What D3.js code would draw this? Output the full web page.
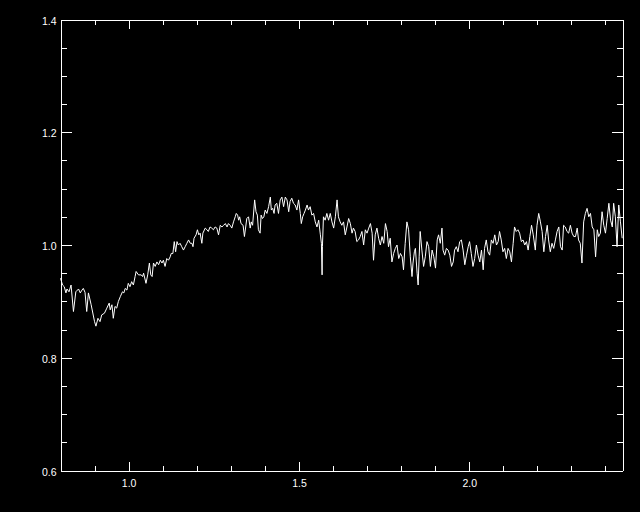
<!DOCTYPE html>
<html>
<head>
<meta charset="utf-8">
<script src="https://cdn.jsdelivr.net/npm/d3@7"></script>
<style>
  html, body { margin: 0; padding: 0; background: #000; }
  svg { display: block; }
</style>
</head>
<body>
<div class="canva"></div>
<script>
var width = 640;
var height = 512;

// tick positions
const xMajor = [1.0, 1.5, 2.0];
const xMinor = [0.9, 1.1, 1.2, 1.3, 1.4, 1.6, 1.7, 1.8, 1.9, 2.1, 2.2, 2.3, 2.4];
const yMajor = [0.6, 0.8, 1.0, 1.2, 1.4];
const yMinor = [0.65, 0.7, 0.75, 0.85, 0.9, 0.95, 1.05, 1.1, 1.15, 1.25, 1.3, 1.35];

// spectrum
const wave = [
  0.800,0.806,0.811,0.816,0.819,0.825,0.831,0.838,0.845,0.853,0.858,0.863,0.867,0.872,0.877,0.882,0.890,0.900,0.904,0.910,
  0.916,0.921,0.929,0.936,0.943,0.946,0.951,0.955,0.960,0.965,0.970,0.976,0.982,0.986,0.990,0.995,0.999,1.004,1.009,1.014,
  1.019,1.022,1.029,1.037,1.041,1.044,1.051,1.056,1.061,1.065,1.069,1.073,1.078,1.083,1.088,1.093,1.098,1.102,1.107,1.112,
  1.117,1.122,1.125,1.130,1.134,1.138,1.142,1.146,1.151,1.156,1.161,1.166,1.171,1.176,1.181,1.186,1.189,1.192,1.198,1.202,
  1.206,1.210,1.215,1.218,1.225,1.230,1.234,1.239,1.244,1.249,1.254,1.259,1.264,1.269,1.274,1.279,1.284,1.289,1.293,1.298,
  1.303,1.308,1.313,1.316,1.320,1.323,1.326,1.330,1.336,1.340,1.347,1.352,1.357,1.360,1.364,1.370,1.374,1.378,1.381,1.386,
  1.389,1.393,1.397,1.401,1.406,1.411,1.416,1.419,1.423,1.427,1.430,1.435,1.440,1.445,1.450,1.455,1.460,1.465,1.470,1.474,
  1.479,1.484,1.489,1.494,1.499,1.504,1.507,1.511,1.515,1.519,1.524,1.528,1.533,1.538,1.543,1.548,1.553,1.558,1.563,1.566,
  1.568,1.569,1.572,1.577,1.582,1.587,1.592,1.597,1.602,1.607,1.612,1.616,1.621,1.626,1.631,1.636,1.641,1.646,1.651,1.656,
  1.660,1.665,1.670,1.675,1.680,1.685,1.690,1.695,1.700,1.705,1.710,1.715,1.719,1.724,1.729,1.734,1.739,1.744,1.749,1.754,
  1.759,1.763,1.768,1.773,1.778,1.783,1.788,1.793,1.798,1.803,1.807,1.812,1.817,1.822,1.827,1.832,1.835,1.839,1.842,1.847,
  1.850,1.853,1.856,1.861,1.866,1.871,1.876,1.881,1.886,1.891,1.896,1.901,1.906,1.910,1.915,1.920,1.923,1.928,1.933,1.938,
  1.943,1.948,1.953,1.957,1.962,1.967,1.972,1.977,1.982,1.987,1.992,1.997,2.001,2.006,2.011,2.016,2.021,2.026,2.031,2.036,
  2.041,2.045,2.050,2.055,2.060,2.065,2.070,2.075,2.080,2.085,2.089,2.094,2.099,2.104,2.109,2.114,2.119,2.124,2.129,2.133,
  2.138,2.143,2.148,2.153,2.158,2.163,2.168,2.173,2.178,2.183,2.188,2.194,2.199,2.204,2.209,2.214,2.219,2.224,2.229,2.233,
  2.238,2.243,2.248,2.253,2.258,2.263,2.268,2.273,2.277,2.282,2.287,2.292,2.297,2.302,2.307,2.312,2.317,2.321,2.326,2.331,
  2.336,2.341,2.346,2.351,2.356,2.361,2.366,2.371,2.376,2.380,2.385,2.390,2.395,2.400,2.405,2.410,2.415,2.420,2.424,2.429,
  2.434,2.439,2.444,2.449
];
const flux = [
  0.941,0.929,0.926,0.915,0.922,0.917,0.929,0.882,0.917,0.922,0.915,0.920,0.923,0.916,0.882,0.915,0.894,0.864,0.856,0.870,
  0.864,0.876,0.879,0.888,0.897,0.885,0.894,0.870,0.891,0.888,0.900,0.909,0.917,0.915,0.923,0.920,0.932,0.926,0.935,0.929,
  0.944,0.953,0.947,0.947,0.944,0.950,0.932,0.947,0.968,0.947,0.944,0.968,0.962,0.970,0.965,0.973,0.968,0.973,0.962,0.976,
  0.973,0.979,0.985,0.985,1.006,0.988,1.006,1.000,1.003,0.997,0.991,0.997,1.003,1.009,1.003,1.003,0.997,1.012,1.018,1.027,
  1.018,1.021,1.003,1.021,1.030,1.027,1.024,1.032,1.030,1.027,1.032,1.030,1.018,1.035,1.032,1.035,1.038,1.032,1.038,1.035,
  1.030,1.041,1.050,1.056,1.053,1.044,1.050,1.038,1.035,1.015,1.047,1.050,1.030,1.041,1.035,1.080,1.059,1.053,1.027,1.021,
  1.053,1.047,1.050,1.062,1.056,1.068,1.085,1.062,1.065,1.056,1.071,1.074,1.056,1.080,1.085,1.068,1.085,1.080,1.059,1.077,
  1.083,1.074,1.071,1.062,1.080,1.056,1.038,1.050,1.056,1.062,1.071,1.062,1.068,1.053,1.056,1.041,1.032,1.044,1.018,1.003,
  0.947,0.997,1.050,1.044,1.056,1.044,1.056,1.041,1.030,1.050,1.080,1.050,1.041,1.035,1.041,1.018,1.032,1.047,1.038,1.021,
  1.030,1.024,1.006,1.009,1.015,1.024,1.000,1.027,1.021,1.030,1.038,1.021,0.973,1.018,1.030,1.012,1.000,1.015,1.003,1.038,
  1.024,0.997,1.012,0.970,0.985,0.994,1.000,0.976,0.985,0.979,0.956,1.003,1.041,1.027,0.979,0.944,0.968,0.988,0.994,0.950,
  0.929,0.979,1.024,0.991,0.962,0.979,1.006,0.997,0.962,0.991,0.979,0.959,1.009,1.018,1.003,1.030,0.991,0.982,0.994,0.991,
  0.982,0.962,0.970,0.991,0.997,0.988,1.006,1.009,0.991,0.965,0.982,0.997,1.006,0.985,0.962,0.976,1.000,0.982,0.970,0.991,
  0.956,0.994,1.009,0.988,0.982,1.009,1.003,1.018,1.000,1.006,1.024,1.009,0.988,0.994,0.976,0.994,0.988,0.970,1.003,1.032,
  1.024,1.027,1.021,1.006,1.009,1.000,1.006,0.991,1.015,1.035,1.018,0.991,1.035,1.056,1.041,1.024,0.988,1.015,1.035,1.009,
  0.988,1.003,0.994,1.009,1.024,1.032,0.997,0.991,1.035,1.032,1.024,1.021,1.035,1.021,1.015,1.015,1.030,1.009,1.003,0.968,
  1.041,1.056,1.065,1.050,1.056,1.032,1.027,0.979,1.027,1.015,1.021,1.059,1.035,1.021,1.047,1.074,1.044,1.032,1.074,1.050,
  0.997,1.071,1.041,1.012
];

const plotLeft = 60.5, plotRight = 622.5, plotTop = 19.5, plotBottom = 470.5;

const canvas = d3.select('.canva');
const svg = canvas.append('svg')
            .attr('width', width)
            .attr('height', height)
            .style('background', '#000');

const x = d3.scaleLinear().domain([0.8, 2.45]).range([plotLeft, plotRight]);
const y = d3.scaleLinear().domain([0.6, 1.4]).range([plotBottom, plotTop]);

const fmt = d3.format('.1f');

function style(g) {
  g.selectAll('path, line')
    .attr('stroke', '#fff')
    .attr('stroke-width', 1)
    .attr('shape-rendering', 'crispEdges');
  g.selectAll('text')
    .attr('fill', '#fff')
    .attr('font-family', 'Liberation Sans, Arial, sans-serif')
    .attr('font-size', 10.5);
}

// bottom
svg.append('g').attr('transform', `translate(0,${plotBottom})`)
  .call(d3.axisBottom(x).tickValues(xMajor).tickSize(-9).tickSizeOuter(0).tickPadding(9).tickFormat(fmt))
  .call(style);
svg.append('g').attr('transform', `translate(0,${plotBottom})`)
  .call(d3.axisBottom(x).tickValues(xMinor).tickSize(-5).tickSizeOuter(0).tickFormat(''))
  .call(style);
// top
svg.append('g').attr('transform', `translate(0,${plotTop})`)
  .call(d3.axisTop(x).tickValues(xMajor).tickSize(-9).tickSizeOuter(0).tickFormat(''))
  .call(style);
svg.append('g').attr('transform', `translate(0,${plotTop})`)
  .call(d3.axisTop(x).tickValues(xMinor).tickSize(-5).tickSizeOuter(0).tickFormat(''))
  .call(style);
// left
svg.append('g').attr('transform', `translate(${plotLeft},0)`)
  .call(d3.axisLeft(y).tickValues(yMajor).tickSize(-11).tickSizeOuter(0).tickPadding(4).tickFormat(fmt))
  .call(style)
  .selectAll('text').attr('dy', '0.45em');
svg.append('g').attr('transform', `translate(${plotLeft},0)`)
  .call(d3.axisLeft(y).tickValues(yMinor).tickSize(-6).tickSizeOuter(0).tickFormat(''))
  .call(style);
// right
svg.append('g').attr('transform', `translate(${plotRight},0)`)
  .call(d3.axisRight(y).tickValues(yMajor).tickSize(-11).tickSizeOuter(0).tickFormat(''))
  .call(style);
svg.append('g').attr('transform', `translate(${plotRight},0)`)
  .call(d3.axisRight(y).tickValues(yMinor).tickSize(-6).tickSizeOuter(0).tickFormat(''))
  .call(style);

// spectrum
const n = Math.min(wave.length, flux.length);
const line = d3.line()
  .x(i => x(wave[i]))
  .y(i => y(flux[i]));

svg.append('path')
  .datum(d3.range(n))
  .attr('d', line)
  .attr('fill', 'none')
  .attr('stroke', '#fff')
  .attr('stroke-width', 1);
</script>
</body>
</html>
